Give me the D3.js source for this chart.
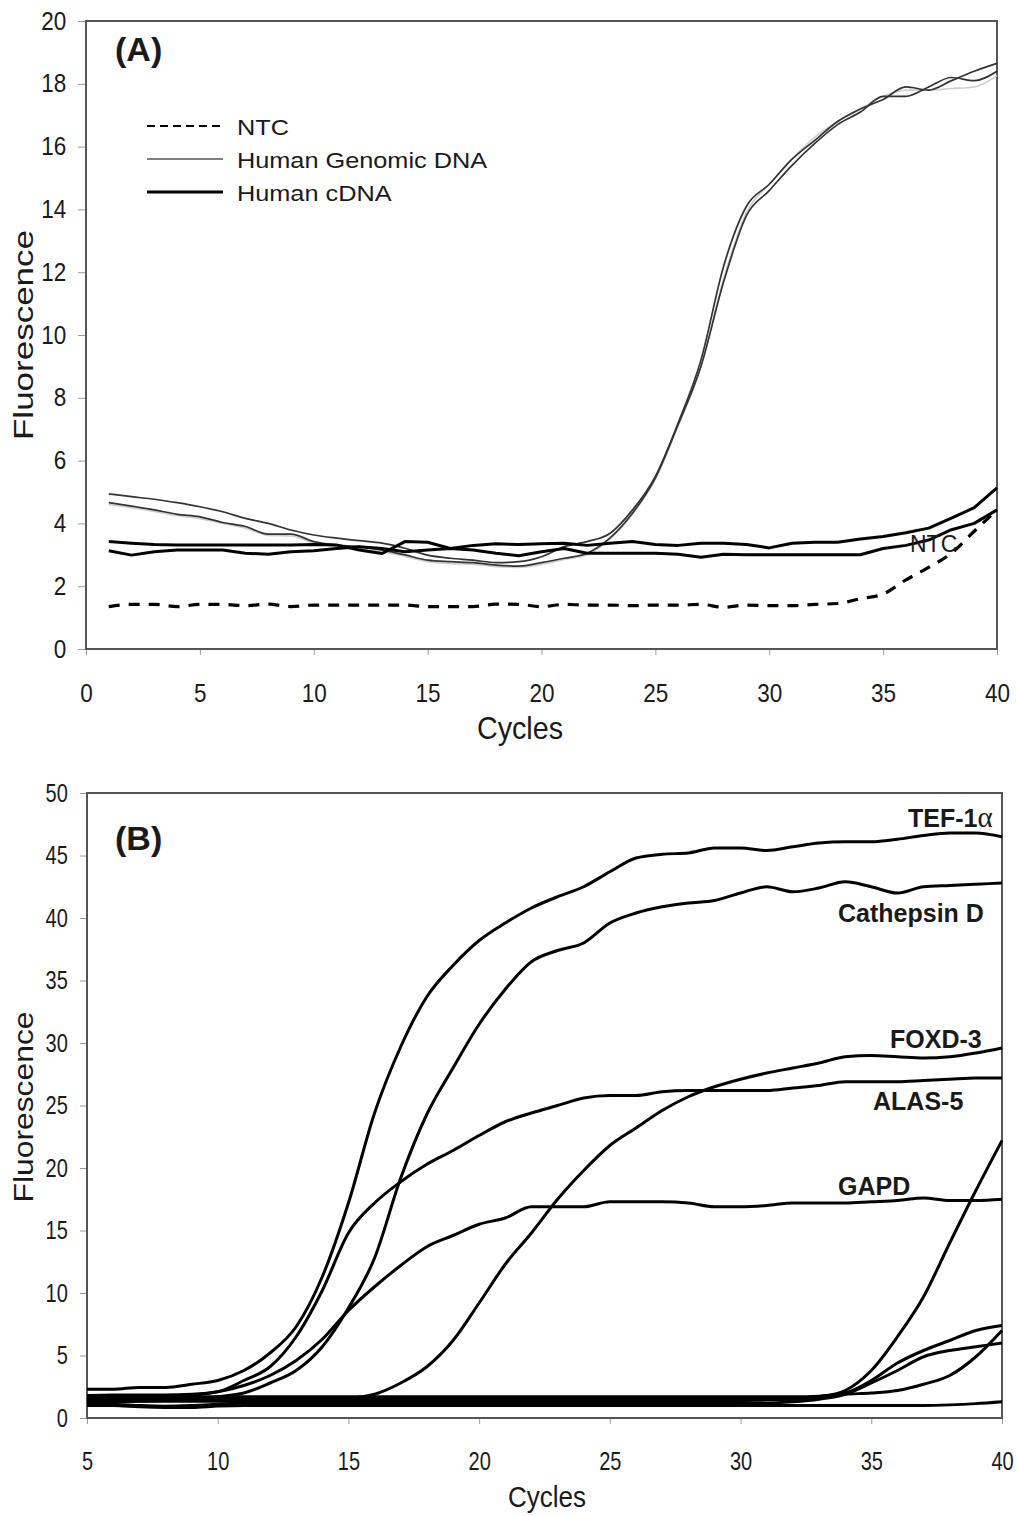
<!DOCTYPE html>
<html>
<head>
<meta charset="utf-8">
<script src="https://cdn.jsdelivr.net/npm/d3@7"></script>
<style>
  body { margin: 0; background: #fff; }
  text { font-family: "Liberation Sans", Arial, sans-serif; fill: #1a1a1a; }
</style>
</head>
<body>
<svg id="chart" width="1017" height="1516"></svg>
<script>
// ---- panel A data (cycles 1..40) ----
var cyclesA = d3.range(1, 41);
var ticksAx = [0, 5, 10, 15, 20, 25, 30, 35, 40];
var ticksAy = [0, 2, 4, 6, 8, 10, 12, 14, 16, 18, 20];

var ntc = [1.35, 1.42, 1.42, 1.35, 1.42, 1.42, 1.38, 1.43, 1.35, 1.4,
           1.4, 1.4, 1.4, 1.4, 1.35, 1.35, 1.35, 1.43, 1.42, 1.35,
           1.42, 1.4, 1.4, 1.38, 1.4, 1.4, 1.42, 1.33, 1.4, 1.38,
           1.38, 1.42, 1.45, 1.6, 1.75, 2.2, 2.6, 3.05, 3.75, 4.43];
var genomic1 = [4.94, 4.85, 4.77, 4.66, 4.53, 4.37, 4.16, 4.0, 3.79, 3.63,
                3.53, 3.45, 3.37, 3.21, 2.99, 2.89, 2.83, 2.75, 2.78, 2.94,
                3.26, 3.42, 3.68, 4.43, 5.5, 7.2, 9.2, 12.2, 14.1, 14.8,
                15.6, 16.2, 16.8, 17.2, 17.5, 17.9, 17.8, 18.1, 18.4, 18.65];
var genomic2 = [4.66, 4.55, 4.43, 4.29, 4.21, 4.03, 3.9, 3.66, 3.66, 3.42,
                3.31, 3.26, 3.15, 3.0, 2.83, 2.78, 2.75, 2.67, 2.64, 2.75,
                2.89, 3.05, 3.53, 4.33, 5.45, 7.15, 9.0, 11.7, 13.8, 14.6,
                15.4, 16.1, 16.7, 17.1, 17.6, 17.6, 17.9, 18.2, 18.1, 18.4];
var genomic3 = [4.6, 4.5, 4.38, 4.25, 4.15, 4.0, 3.85, 3.62, 3.6, 3.38,
                3.27, 3.2, 3.1, 2.95, 2.78, 2.72, 2.7, 2.62, 2.6, 2.7,
                2.85, 3.0, 3.5, 4.3, 5.4, 7.1, 9.0, 11.8, 13.9, 14.8,
                15.6, 16.3, 16.8, 17.2, 17.6, 17.8, 17.8, 17.85, 17.9, 18.25];
var cdna1 = [3.42, 3.37, 3.33, 3.31, 3.31, 3.31, 3.31, 3.31, 3.31, 3.33,
             3.31, 3.15, 3.04, 3.42, 3.4, 3.2, 3.3, 3.35, 3.33, 3.35,
             3.37, 3.3, 3.37, 3.42, 3.33, 3.3, 3.37, 3.37, 3.33, 3.22,
             3.37, 3.4, 3.4, 3.5, 3.58, 3.7, 3.85, 4.17, 4.5, 5.13];
var cdna2 = [3.13, 2.99, 3.1, 3.15, 3.15, 3.15, 3.05, 3.02, 3.1, 3.13,
             3.2, 3.26, 3.2, 3.1, 3.15, 3.2, 3.15, 3.05, 2.97, 3.1,
             3.2, 3.05, 3.05, 3.05, 3.05, 3.02, 2.92, 3.02, 3.0, 3.0,
             3.0, 3.0, 3.0, 3.0, 3.2, 3.3, 3.47, 3.8, 4.0, 4.43];
var legendA = ["NTC", "Human Genomic DNA", "Human cDNA"];

// ---- panel B data (cycles 5..40) ----
var cyclesB = d3.range(5, 41);
var ticksBx = [5, 10, 15, 20, 25, 30, 35, 40];
var ticksBy = [0, 5, 10, 15, 20, 25, 30, 35, 40, 45, 50];

var tef = [2.3, 2.3, 2.45, 2.45, 2.7, 3.0, 3.8, 5.2, 7.3, 11.3,
           17.2, 24.4, 29.7, 33.7, 36.2, 38.2, 39.6, 40.8, 41.7, 42.5,
           43.7, 44.8, 45.1, 45.2, 45.6, 45.6, 45.4, 45.7, 46.0, 46.1,
           46.1, 46.3, 46.6, 46.8, 46.8, 46.5];
var cathepsin = [1.3, 1.3, 1.35, 1.4, 1.5, 1.7, 2.0, 2.8, 3.8, 5.7,
                 8.8, 12.8, 19.2, 24.3, 28.0, 31.5, 34.3, 36.5, 37.4, 38.0,
                 39.6, 40.4, 40.9, 41.2, 41.4, 42.0, 42.5, 42.1, 42.4, 42.9,
                 42.5, 42.0, 42.5, 42.6, 42.7, 42.8];
var foxd = [1.5, 1.5, 1.5, 1.5, 1.5, 1.5, 1.5, 1.5, 1.5, 1.55,
            1.6, 1.9, 2.8, 4.1, 6.2, 9.2, 12.3, 14.8, 17.5, 19.8,
            21.8, 23.2, 24.6, 25.7, 26.5, 27.1, 27.6, 28.0, 28.4, 28.9,
            29.0, 28.9, 28.8, 28.9, 29.2, 29.6];
var alas = [1.8, 1.85, 1.85, 1.85, 1.9, 2.1, 3.0, 4.1, 6.5, 10.2,
            14.8, 17.2, 18.9, 20.3, 21.4, 22.6, 23.7, 24.4, 25.0, 25.6,
            25.8, 25.8, 26.1, 26.2, 26.2, 26.2, 26.2, 26.4, 26.6, 26.9,
            26.9, 26.9, 27.0, 27.1, 27.2, 27.2];
var gapd = [1.6, 1.6, 1.65, 1.7, 1.8, 2.1, 2.6, 3.4, 4.6, 6.3,
            8.6, 10.5, 12.2, 13.7, 14.6, 15.5, 16.0, 16.9, 16.9, 16.9,
            17.3, 17.3, 17.3, 17.2, 16.9, 16.9, 17.0, 17.2, 17.2, 17.2,
            17.3, 17.4, 17.6, 17.4, 17.4, 17.5];
var late1 = [1.45, 1.45, 1.4, 1.4, 1.45, 1.5, 1.5, 1.5, 1.45, 1.45,
             1.5, 1.5, 1.5, 1.5, 1.5, 1.5, 1.5, 1.5, 1.5, 1.5,
             1.5, 1.5, 1.5, 1.5, 1.5, 1.5, 1.5, 1.55,
             1.7, 2.2, 3.8, 6.5, 9.7, 14.0, 18.2, 22.2];
var late2 = [1.7, 1.7, 1.65, 1.65, 1.7, 1.7, 1.7, 1.7, 1.7, 1.7,
             1.7, 1.7, 1.7, 1.7, 1.7, 1.7, 1.7, 1.7, 1.7, 1.7,
             1.7, 1.7, 1.7, 1.7, 1.7, 1.7, 1.7, 1.7,
             1.75, 2.0, 3.0, 4.4, 5.4, 6.2, 7.0, 7.4];
var late3 = [1.2, 1.1, 1.0, 0.95, 1.0, 1.1, 1.2, 1.2, 1.2, 1.2,
             1.2, 1.2, 1.2, 1.2, 1.2, 1.2, 1.2, 1.2, 1.2, 1.2,
             1.2, 1.2, 1.2, 1.2, 1.2, 1.2, 1.2, 1.3,
             1.5, 1.9, 2.8, 3.8, 4.9, 5.4, 5.7, 6.0];
var late4 = [1.35, 1.35, 1.35, 1.35, 1.35, 1.35, 1.35, 1.35, 1.35, 1.35,
             1.35, 1.35, 1.35, 1.35, 1.35, 1.35, 1.35, 1.35, 1.35, 1.35,
             1.35, 1.35, 1.35, 1.35, 1.35, 1.4, 1.45, 1.5,
             1.7, 1.9, 2.0, 2.2, 2.7, 3.4, 4.9, 7.0];
var flat = [1.0, 1.0, 0.9, 0.85, 0.85, 0.95, 1.0, 1.0, 1.0, 1.0,
            1.0, 1.0, 1.0, 1.0, 1.0, 1.0, 1.0, 1.0, 1.0, 1.0,
            1.0, 1.0, 1.0, 1.0, 1.0, 1.0, 1.0, 1.0,
            1.0, 1.0, 1.0, 1.0, 1.0, 1.05, 1.15, 1.3];
var labelsB = ["TEF-1", "Cathepsin D", "FOXD-3", "ALAS-5", "GAPD"];

var svg = d3.select("#chart");
svg.append("rect").attr("width", 1017).attr("height", 1516).attr("fill", "#fff");

// axes + frame for one panel
function drawAxes(x, y, xt, yt, o) {
  var ax = svg.append("g")
    .attr("transform", "translate(0," + y.range()[0] + ")")
    .call(d3.axisBottom(x).tickValues(xt).tickSize(6).tickFormat(d3.format("d")));
  ax.select(".domain").remove();
  ax.selectAll("line").attr("stroke", "#9a9a9a");
  ax.selectAll("text")
    .attr("y", o.xLab).attr("dy", null)
    .attr("font-size", o.fs)
    .attr("transform", "scale(" + o.sx + ",1)");

  var ay = svg.append("g")
    .attr("transform", "translate(" + x.range()[0] + ",0)")
    .call(d3.axisLeft(y).tickValues(yt).tickSize(o.tick).tickPadding(o.pad).tickFormat(d3.format("d")));
  ay.select(".domain").remove();
  ay.selectAll("line").attr("stroke", "#9a9a9a");
  ay.selectAll("text")
    .attr("font-size", o.fs)
    .attr("transform", "scale(" + o.sx + ",1)");

  svg.append("rect")
    .attr("x", x.range()[0]).attr("y", y.range()[1])
    .attr("width", x.range()[1] - x.range()[0])
    .attr("height", y.range()[0] - y.range()[1])
    .attr("fill", "none").attr("stroke", "#555").attr("stroke-width", 2);
}

function drawLine(x, y, xs, ys, curve, style) {
  var line = d3.line()
    .x(function(d, i) { return x(xs[i]); })
    .y(function(d) { return y(d); })
    .curve(curve);
  return svg.append("path")
    .datum(ys)
    .attr("d", line)
    .attr("fill", "none")
    .attr("stroke", style.color)
    .attr("stroke-width", style.width)
    .attr("stroke-dasharray", style.dash || null)
    .attr("stroke-linejoin", "round");
}

// ================= PANEL A =================
var xA = d3.scaleLinear().domain([0, 40]).range([86, 997]);
var yA = d3.scaleLinear().domain([0, 20]).range([649, 21]);

drawAxes(xA, yA, ticksAx, ticksAy, { tick: 8, pad: 14, fs: 25, sx: 0.9, xLab: 53 });

drawLine(xA, yA, cyclesA, genomic3, d3.curveMonotoneX, { color: "#cfcfcf", width: 1.6 });
drawLine(xA, yA, cyclesA, genomic1, d3.curveMonotoneX, { color: "#333", width: 1.7 });
drawLine(xA, yA, cyclesA, genomic2, d3.curveMonotoneX, { color: "#333", width: 1.7 });
drawLine(xA, yA, cyclesA, cdna1, d3.curveLinear, { color: "#000", width: 3 });
drawLine(xA, yA, cyclesA, cdna2, d3.curveLinear, { color: "#000", width: 3 });
drawLine(xA, yA, cyclesA, ntc, d3.curveMonotoneX, { color: "#000", width: 3.2, dash: "11,9" });

svg.append("text").attr("x", 910).attr("y", 552).attr("font-size", 23).text("NTC");

svg.append("text").attr("x", 115).attr("y", 61)
  .attr("font-size", 34).attr("font-weight", "bold").text("(A)");

// legend
var legStyles = [
  { color: "#000", width: 2, dash: "8,5" },
  { color: "#555", width: 1.6 },
  { color: "#000", width: 3.2 }
];
var leg = svg.append("g");
legendA.forEach(function(name, i) {
  var ly = 126 + i * 33;
  leg.append("line").attr("x1", 147).attr("x2", 223).attr("y1", ly).attr("y2", ly)
    .attr("stroke", legStyles[i].color).attr("stroke-width", legStyles[i].width)
    .attr("stroke-dasharray", legStyles[i].dash || null);
  leg.append("text")
    .attr("transform", "translate(237," + (ly + 9) + ") scale(1.15,1)")
    .attr("font-size", 22).text(name);
});

svg.append("text")
  .attr("transform", "translate(33,335) rotate(-90)")
  .attr("text-anchor", "middle").attr("font-size", 28)
  .attr("textLength", 210).attr("lengthAdjust", "spacingAndGlyphs")
  .text("Fluorescence");
svg.append("text")
  .attr("transform", "translate(520,739) scale(1,1.15)")
  .attr("text-anchor", "middle").attr("font-size", 28)
  .attr("textLength", 86).attr("lengthAdjust", "spacingAndGlyphs")
  .text("Cycles");

// ================= PANEL B =================
var xB = d3.scaleLinear().domain([5, 40]).range([87, 1002]);
var yB = d3.scaleLinear().domain([0, 50]).range([1418, 793]);

drawAxes(xB, yB, ticksBx, ticksBy, { tick: 7, pad: 17, fs: 25, sx: 0.8, xLab: 52 });

var seriesB = [flat, late4, late3, late2, late1, gapd, alas, foxd, cathepsin, tef];
seriesB.forEach(function(s) {
  drawLine(xB, yB, cyclesB, s, d3.curveMonotoneX, { color: "#000", width: 3 });
});

var labelPos = [[908, 827], [838, 922], [890, 1048], [873, 1110], [838, 1195]];
labelsB.forEach(function(name, i) {
  var t = svg.append("text")
    .attr("x", labelPos[i][0]).attr("y", labelPos[i][1])
    .attr("font-size", 25).attr("font-weight", "bold").text(name);
  if (i === 0) {
    t.append("tspan").attr("font-family", "'Liberation Serif', 'DejaVu Serif', serif")
      .attr("font-weight", "normal").attr("font-size", 29).text("\u03b1");
  }
});

svg.append("text").attr("x", 115).attr("y", 850)
  .attr("font-size", 34).attr("font-weight", "bold").text("(B)");

svg.append("text")
  .attr("transform", "translate(33,1107) rotate(-90)")
  .attr("text-anchor", "middle").attr("font-size", 27)
  .attr("textLength", 191).attr("lengthAdjust", "spacingAndGlyphs")
  .text("Fluorescence");
svg.append("text")
  .attr("transform", "translate(547,1507) scale(1,1.13)")
  .attr("text-anchor", "middle").attr("font-size", 26)
  .text("Cycles");
</script>
</body>
</html>
